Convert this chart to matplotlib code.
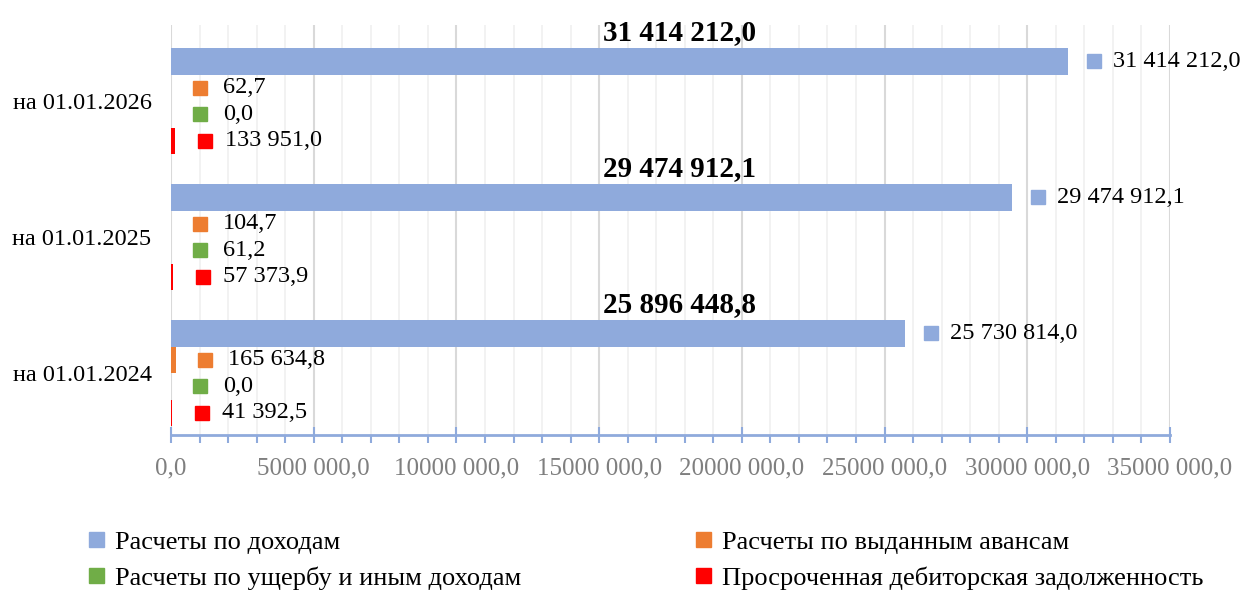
import matplotlib
matplotlib.use("Agg")
import matplotlib.pyplot as plt
from matplotlib.patches import Patch
from matplotlib.ticker import MultipleLocator, FuncFormatter
from matplotlib.transforms import offset_copy

plt.rcParams['font.family'] = ['Liberation Serif', 'DejaVu Serif']

categories = ["на 01.01.2024", "на 01.01.2025", "на 01.01.2026"]
series_names = ["Расчеты по доходам", "Расчеты по выданным авансам",
                "Расчеты по ущербу и иным доходам", "Просроченная дебиторская задолженность"]
income = [25730814.0, 29474912.1, 31414212.0]
advances = [165634.8, 104.7, 62.7]
damage = [0.0, 61.2, 0.0]
overdue = [41392.5, 57373.9, 133951.0]
totals = [25896448.8, 29474912.1, 31414212.0]
colors = ["#8FAADC", "#ED7D31", "#70AD47", "#FF0000"]

def fmt_num(v):
    s = f"{v:,.1f}".replace(",", " ").replace(".", ",")
    return s

fig = plt.figure(figsize=(12.41, 5.90), dpi=100)
ax = fig.add_axes([171/1241, 1 - 435/590, (1170-171)/1241, (435-25)/590])

h = 0.195
offsets = [1.5*h, 0.5*h, -0.5*h, -1.5*h]
data = [income, advances, damage, overdue]
sq_off = [26, 29, 29, 30]
tx_off = [19, 23, 23, 20]

for k, (vals, off, col) in enumerate(zip(data, offsets, colors)):
    ys = [i + off for i in range(len(categories))]
    ax.barh(ys, vals, height=h, color=col, zorder=3)
    for y, v in zip(ys, vals):
        tr_sq = offset_copy(ax.transData, fig=fig, x=sq_off[k]*0.72, y=0, units='points')
        ax.plot([v], [y], marker='s', markersize=10, color=col, transform=tr_sq,
                zorder=4, clip_on=False, linestyle='none')
        tr_tx = offset_copy(ax.transData, fig=fig, x=(sq_off[k]+tx_off[k])*0.72, y=0, units='points')
        ax.text(v, y, fmt_num(v), transform=tr_tx, ha='left', va='center',
                fontsize=17.5, color='black', zorder=5)

for i, t in enumerate(totals):
    ax.text(17.8e6, i + 1.5*h + 29/136, fmt_num(t), ha='center', va='center',
            fontsize=21, fontweight='bold', color='black', zorder=5, clip_on=False)

ax.set_xlim(0, 35e6)
ax.set_ylim(-0.456, 2.56)
ax.set_yticks(range(len(categories)))
ax.set_yticklabels(categories, fontsize=17.5)
ax.tick_params(axis='y', length=0, pad=14)

ax.xaxis.set_major_locator(MultipleLocator(5e6))
ax.xaxis.set_minor_locator(MultipleLocator(1e6))
ax.xaxis.set_major_formatter(FuncFormatter(lambda x, p: "0,0" if x == 0 else f"{int(x/1e3)} 000,0"))
ax.tick_params(axis='x', which='major', labelsize=18, labelcolor='#7F7F7F',
               color='#8FAADC', direction='inout', length=11, width=1.5, pad=11)
ax.tick_params(axis='x', which='minor', color='#8FAADC', direction='out', length=6, width=1.5)

ax.grid(axis='x', which='major', color='#D9D9D9', linewidth=1.5, zorder=0)
ax.grid(axis='x', which='minor', color='#F0F0F0', linewidth=1.2, zorder=0)
for s in ['top', 'right', 'left']:
    ax.spines[s].set_visible(False)
ax.spines['bottom'].set_color('#8FAADC')
ax.spines['bottom'].set_linewidth(2)

handles = [Patch(color=colors[0], label=series_names[0]),
           Patch(color=colors[2], label=series_names[2]),
           Patch(color=colors[1], label=series_names[1]),
           Patch(color=colors[3], label=series_names[3])]
fig.legend(handles=handles, loc='upper left', bbox_to_anchor=(89/1241, 1 - 532/590),
           ncol=2, frameon=False, fontsize=19, handlelength=0.57, handleheight=0.5,
           handletextpad=0.42, columnspacing=6.6, labelspacing=0.48, borderaxespad=0,
           borderpad=0)

fig.savefig("out.png", dpi=100)
